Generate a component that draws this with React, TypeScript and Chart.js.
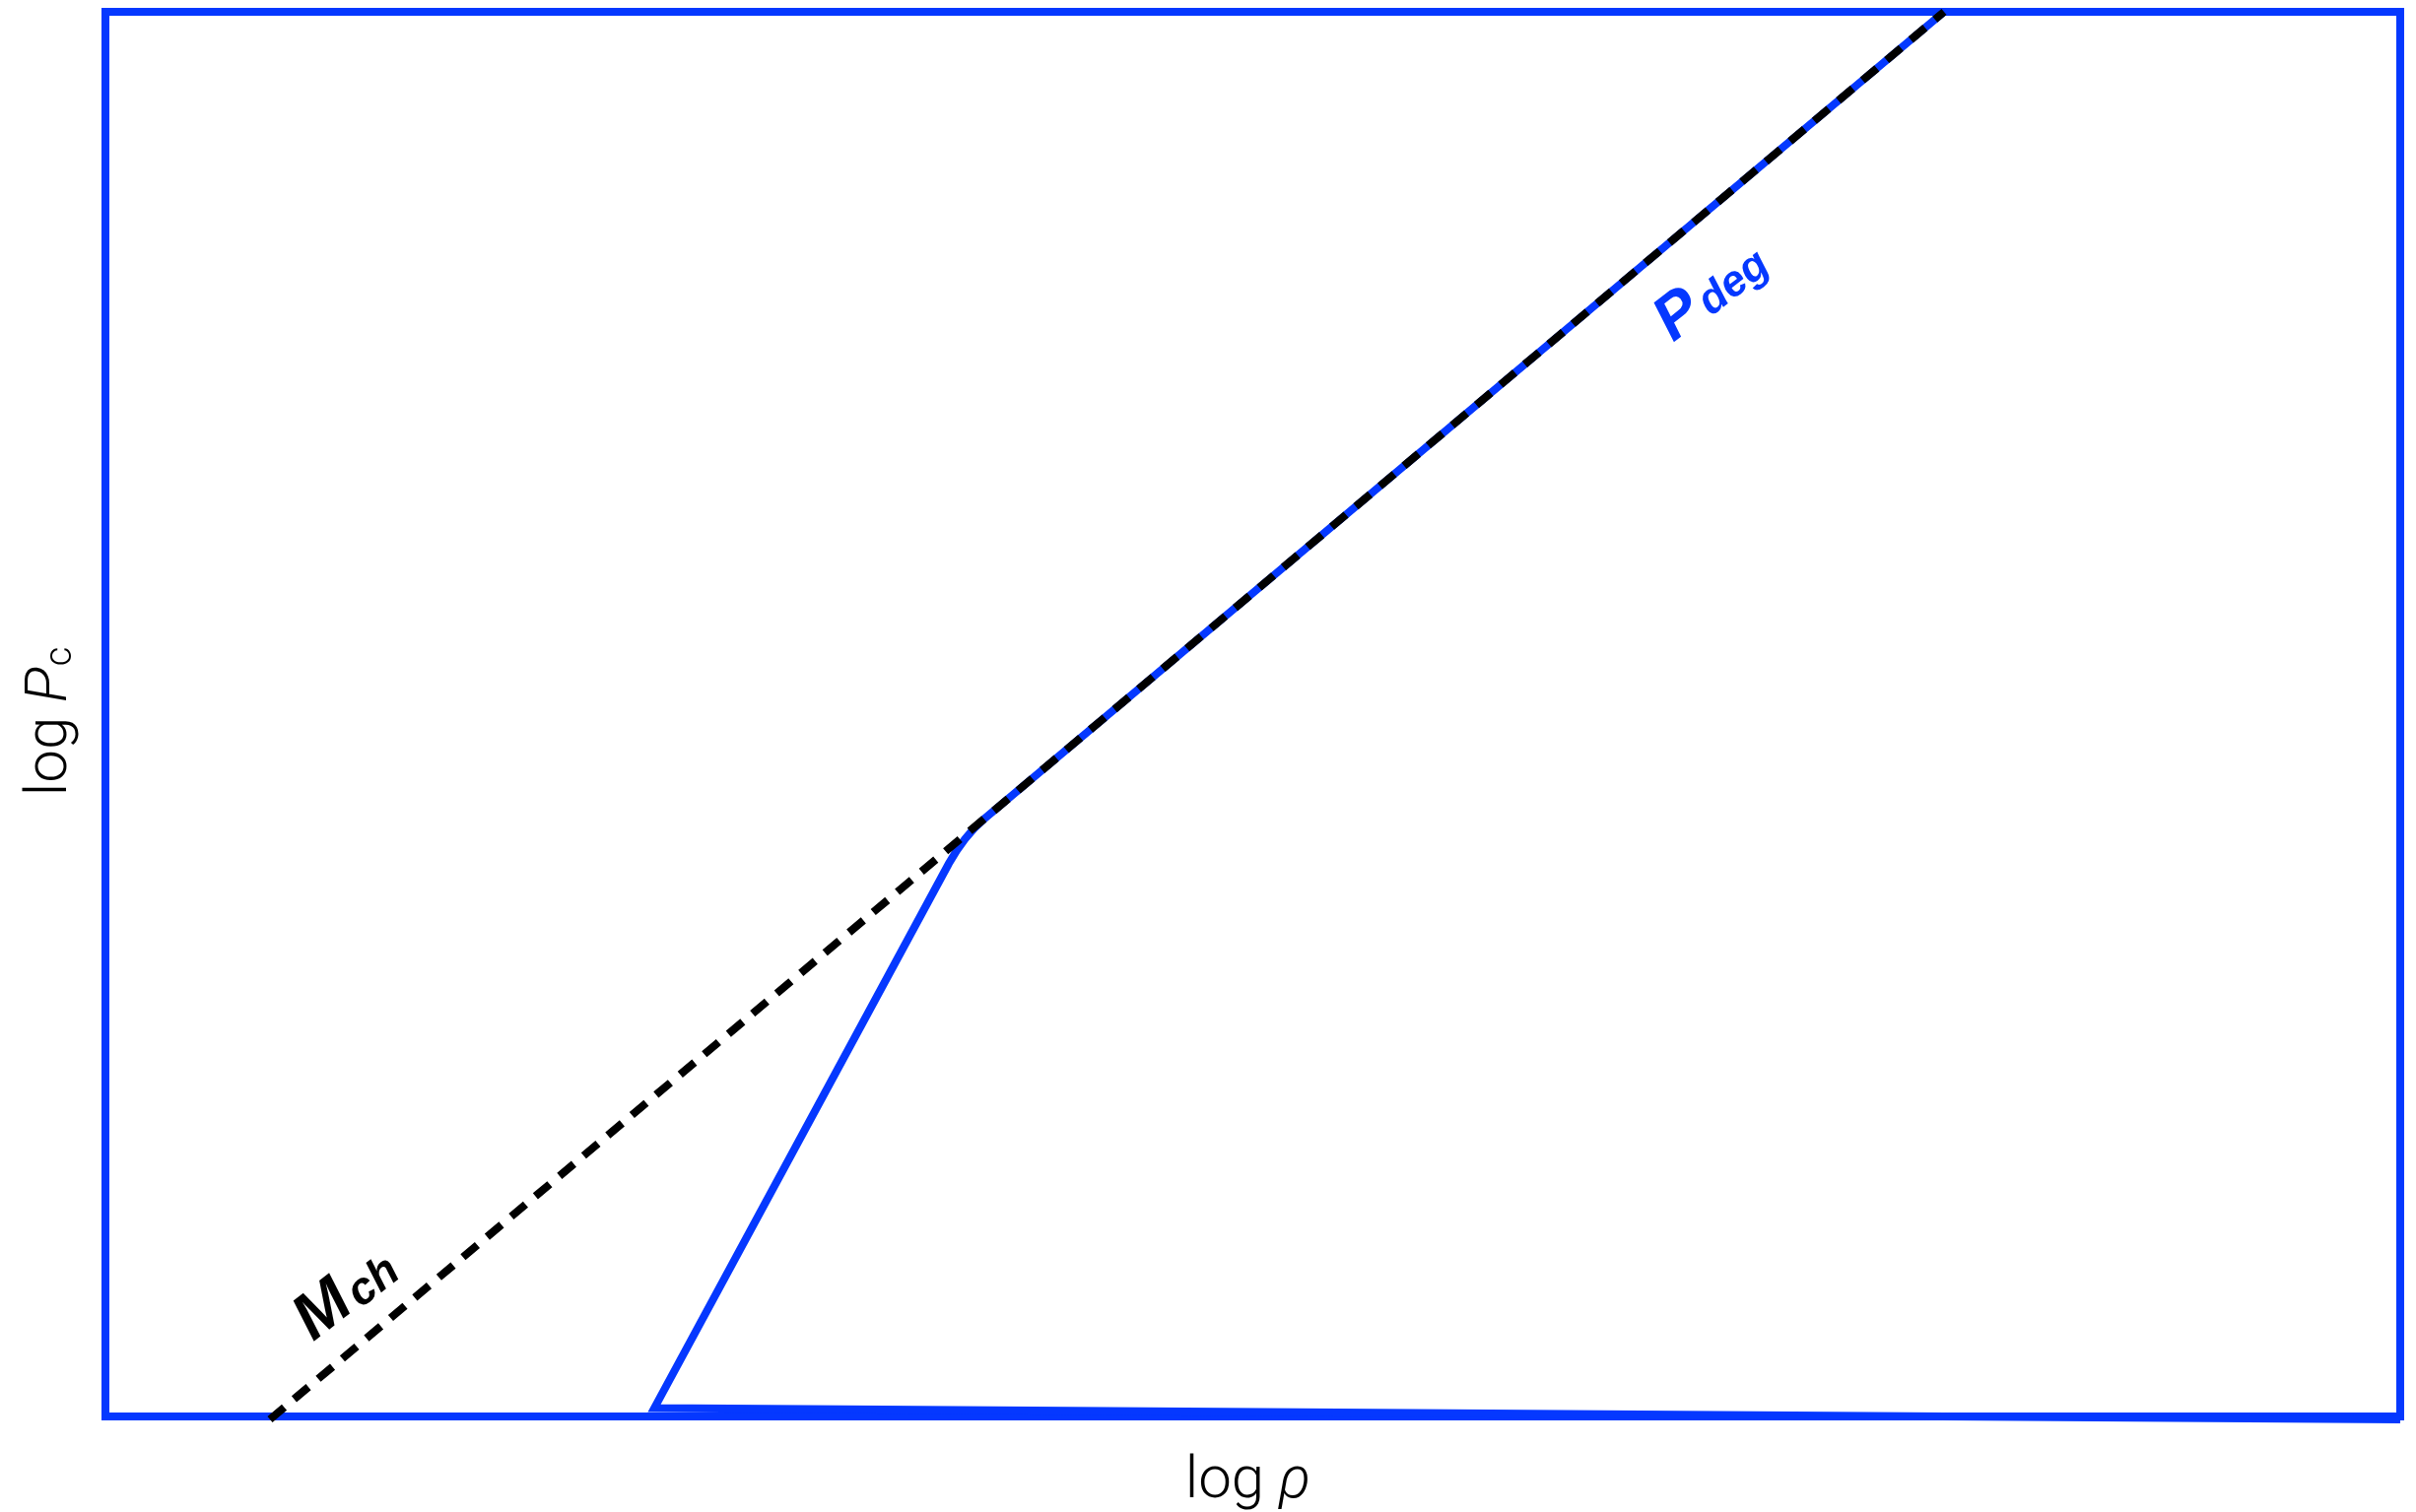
import { useEffect, useRef } from "react";
import { Chart, registerables } from "chart.js";

Chart.register(...registerables);

const BLUE = "#0538FF";
const BLACK = "#000000";

// Axis extents (log ρ horizontally, log Pc vertically, arbitrary units)
const xRange = [0, 10];
const yRange = [0, 10];

// Degenerate-pressure curve: bottom edge, rising branch, rounded knee, then along the Chandrasekhar line
const pdegX = [10, 2.392, 3.675, 3.709, 3.746, 3.786, 3.83, 8.012];
const pdegY = [-0.021, 0.06, 3.936, 4.028, 4.112, 4.188, 4.255, 10.0];

// Chandrasekhar-mass line (dashed)
const mchX = [0.717, 8.012];
const mchY = [-0.021, 10.0];

// Text
const xTitleMain = "log ";
const xTitleSym = "ρ";
const yTitleMain = "log ";
const yTitleSym = "P";
const yTitleSub = "c";
const pdegMain = "P";
const pdegSub = "deg";
const mchMain = "M";
const mchSub = "ch";

// Label anchors (baseline start) in data units
const pdegAnchor = { x: 6.831, y: 7.644 };
const mchAnchor = { x: 0.905, y: 0.53 };

const LABEL_ANGLE = (-38 * Math.PI) / 180;
const TITLE_FONT = "Roboto, 'Liberation Sans', sans-serif";
const LABEL_FONT = "'Liberation Sans', Arial, sans-serif";

function toPoints(xs: number[], ys: number[]) {
  return xs.map((x, i) => ({ x, y: ys[i] }));
}

function drawTagged(
  ctx: CanvasRenderingContext2D,
  x: number,
  y: number,
  angle: number,
  main: string,
  sub: string,
  color: string,
  mainFont: string,
  subFont: string,
  gap: number,
  drop: number
) {
  ctx.save();
  ctx.translate(x, y);
  ctx.rotate(angle);
  ctx.fillStyle = color;
  ctx.textAlign = "left";
  ctx.textBaseline = "alphabetic";
  ctx.font = mainFont;
  ctx.fillText(main, 0, 0);
  const w = ctx.measureText(main).width;
  ctx.font = subFont;
  ctx.fillText(sub, w + gap, drop);
  ctx.restore();
}

const framePlugin = {
  id: "plotFrame",
  beforeDatasetsDraw(chart: any) {
    const { ctx, chartArea } = chart;
    ctx.save();
    ctx.strokeStyle = BLUE;
    ctx.lineWidth = 8;
    ctx.lineJoin = "miter";
    ctx.strokeRect(
      chartArea.left,
      chartArea.top,
      chartArea.right - chartArea.left,
      chartArea.bottom - chartArea.top
    );
    ctx.restore();
  },
};

const titlesPlugin = {
  id: "titlesAndTags",
  afterDatasetsDraw(chart: any) {
    const { ctx, chartArea, scales } = chart;
    const xs = scales.x;
    const ys = scales.y;

    // x-axis title: "log ρ"
    ctx.save();
    ctx.fillStyle = BLACK;
    ctx.textBaseline = "alphabetic";
    ctx.textAlign = "left";
    ctx.font = `300 60px ${TITLE_FONT}`;
    const wMain = ctx.measureText(xTitleMain).width;
    ctx.font = `italic 300 60px ${TITLE_FONT}`;
    const wSym = ctx.measureText(xTitleSym).width;
    const cx = (chartArea.left + chartArea.right) / 2 - 5;
    const startX = cx - (wMain + wSym) / 2;
    const baseY = chartArea.bottom + 82;
    ctx.font = `300 60px ${TITLE_FONT}`;
    ctx.fillText(xTitleMain, startX, baseY);
    ctx.font = `italic 300 60px ${TITLE_FONT}`;
    ctx.fillText(xTitleSym, startX + wMain, baseY);
    ctx.restore();

    // y-axis title: "log Pc", reading upwards
    ctx.save();
    ctx.fillStyle = BLACK;
    ctx.textBaseline = "alphabetic";
    ctx.textAlign = "left";
    ctx.font = `300 60px ${TITLE_FONT}`;
    const yw1 = ctx.measureText(yTitleMain).width;
    ctx.font = `italic 300 60px ${TITLE_FONT}`;
    const yw2 = ctx.measureText(yTitleSym).width;
    ctx.font = `300 38px ${TITLE_FONT}`;
    const yw3 = ctx.measureText(yTitleSub).width;
    const total = yw1 + yw2 + yw3;
    const cy = (chartArea.top + chartArea.bottom) / 2 + 8;
    ctx.translate(chartArea.left - 40, cy + total / 2);
    ctx.rotate(-Math.PI / 2);
    ctx.font = `300 60px ${TITLE_FONT}`;
    ctx.fillText(yTitleMain, 0, 0);
    ctx.font = `italic 300 60px ${TITLE_FONT}`;
    ctx.fillText(yTitleSym, yw1, 0);
    ctx.font = `300 38px ${TITLE_FONT}`;
    ctx.fillText(yTitleSub, yw1 + yw2 + 1, 5);
    ctx.restore();

    // Curve tags
    drawTagged(
      ctx,
      xs.getPixelForValue(pdegAnchor.x),
      ys.getPixelForValue(pdegAnchor.y),
      LABEL_ANGLE,
      pdegMain,
      pdegSub,
      BLUE,
      `italic bold 64px ${LABEL_FONT}`,
      `italic bold 44px ${LABEL_FONT}`,
      4,
      3
    );
    drawTagged(
      ctx,
      xs.getPixelForValue(mchAnchor.x),
      ys.getPixelForValue(mchAnchor.y),
      LABEL_ANGLE,
      mchMain,
      mchSub,
      BLACK,
      `italic bold 66px ${LABEL_FONT}`,
      `italic bold 46px ${LABEL_FONT}`,
      4,
      3
    );
  },
};

export default function App() {
  const canvasRef = useRef<HTMLCanvasElement | null>(null);

  useEffect(() => {
    const canvas = canvasRef.current;
    if (!canvas) return;
    const chart = new Chart(canvas, {
      type: "scatter",
      data: {
        datasets: [
          {
            label: "Mch",
            data: toPoints(mchX, mchY),
            showLine: true,
            borderColor: BLACK,
            borderWidth: 8,
            borderDash: [19, 13],
            borderCapStyle: "butt",
            pointRadius: 0,
            fill: false,
            clip: false,
            tension: 0,
          },
          {
            label: "Pdeg",
            data: toPoints(pdegX, pdegY),
            showLine: true,
            borderColor: BLUE,
            borderWidth: 8,
            borderJoinStyle: "miter",
            pointRadius: 0,
            fill: false,
            clip: false,
            tension: 0,
          },
        ],
      },
      options: {
        responsive: false,
        animation: false,
        devicePixelRatio: 1,
        layout: { padding: { left: 107, top: 12, right: 16, bottom: 97 } },
        plugins: {
          legend: { display: false },
          tooltip: { enabled: false },
        },
        events: [],
        scales: {
          x: { type: "linear", min: xRange[0], max: xRange[1], display: false },
          y: { type: "linear", min: yRange[0], max: yRange[1], display: false },
        },
      },
      plugins: [framePlugin, titlesPlugin],
    } as any);
    return () => chart.destroy();
  }, []);

  return (
    <div
      style={{
        position: "fixed",
        left: 0,
        top: 0,
        width: 2452,
        height: 1535,
        background: "#ffffff",
      }}
    >
      <canvas ref={canvasRef} width={2452} height={1535} style={{ display: "block" }} />
    </div>
  );
}
